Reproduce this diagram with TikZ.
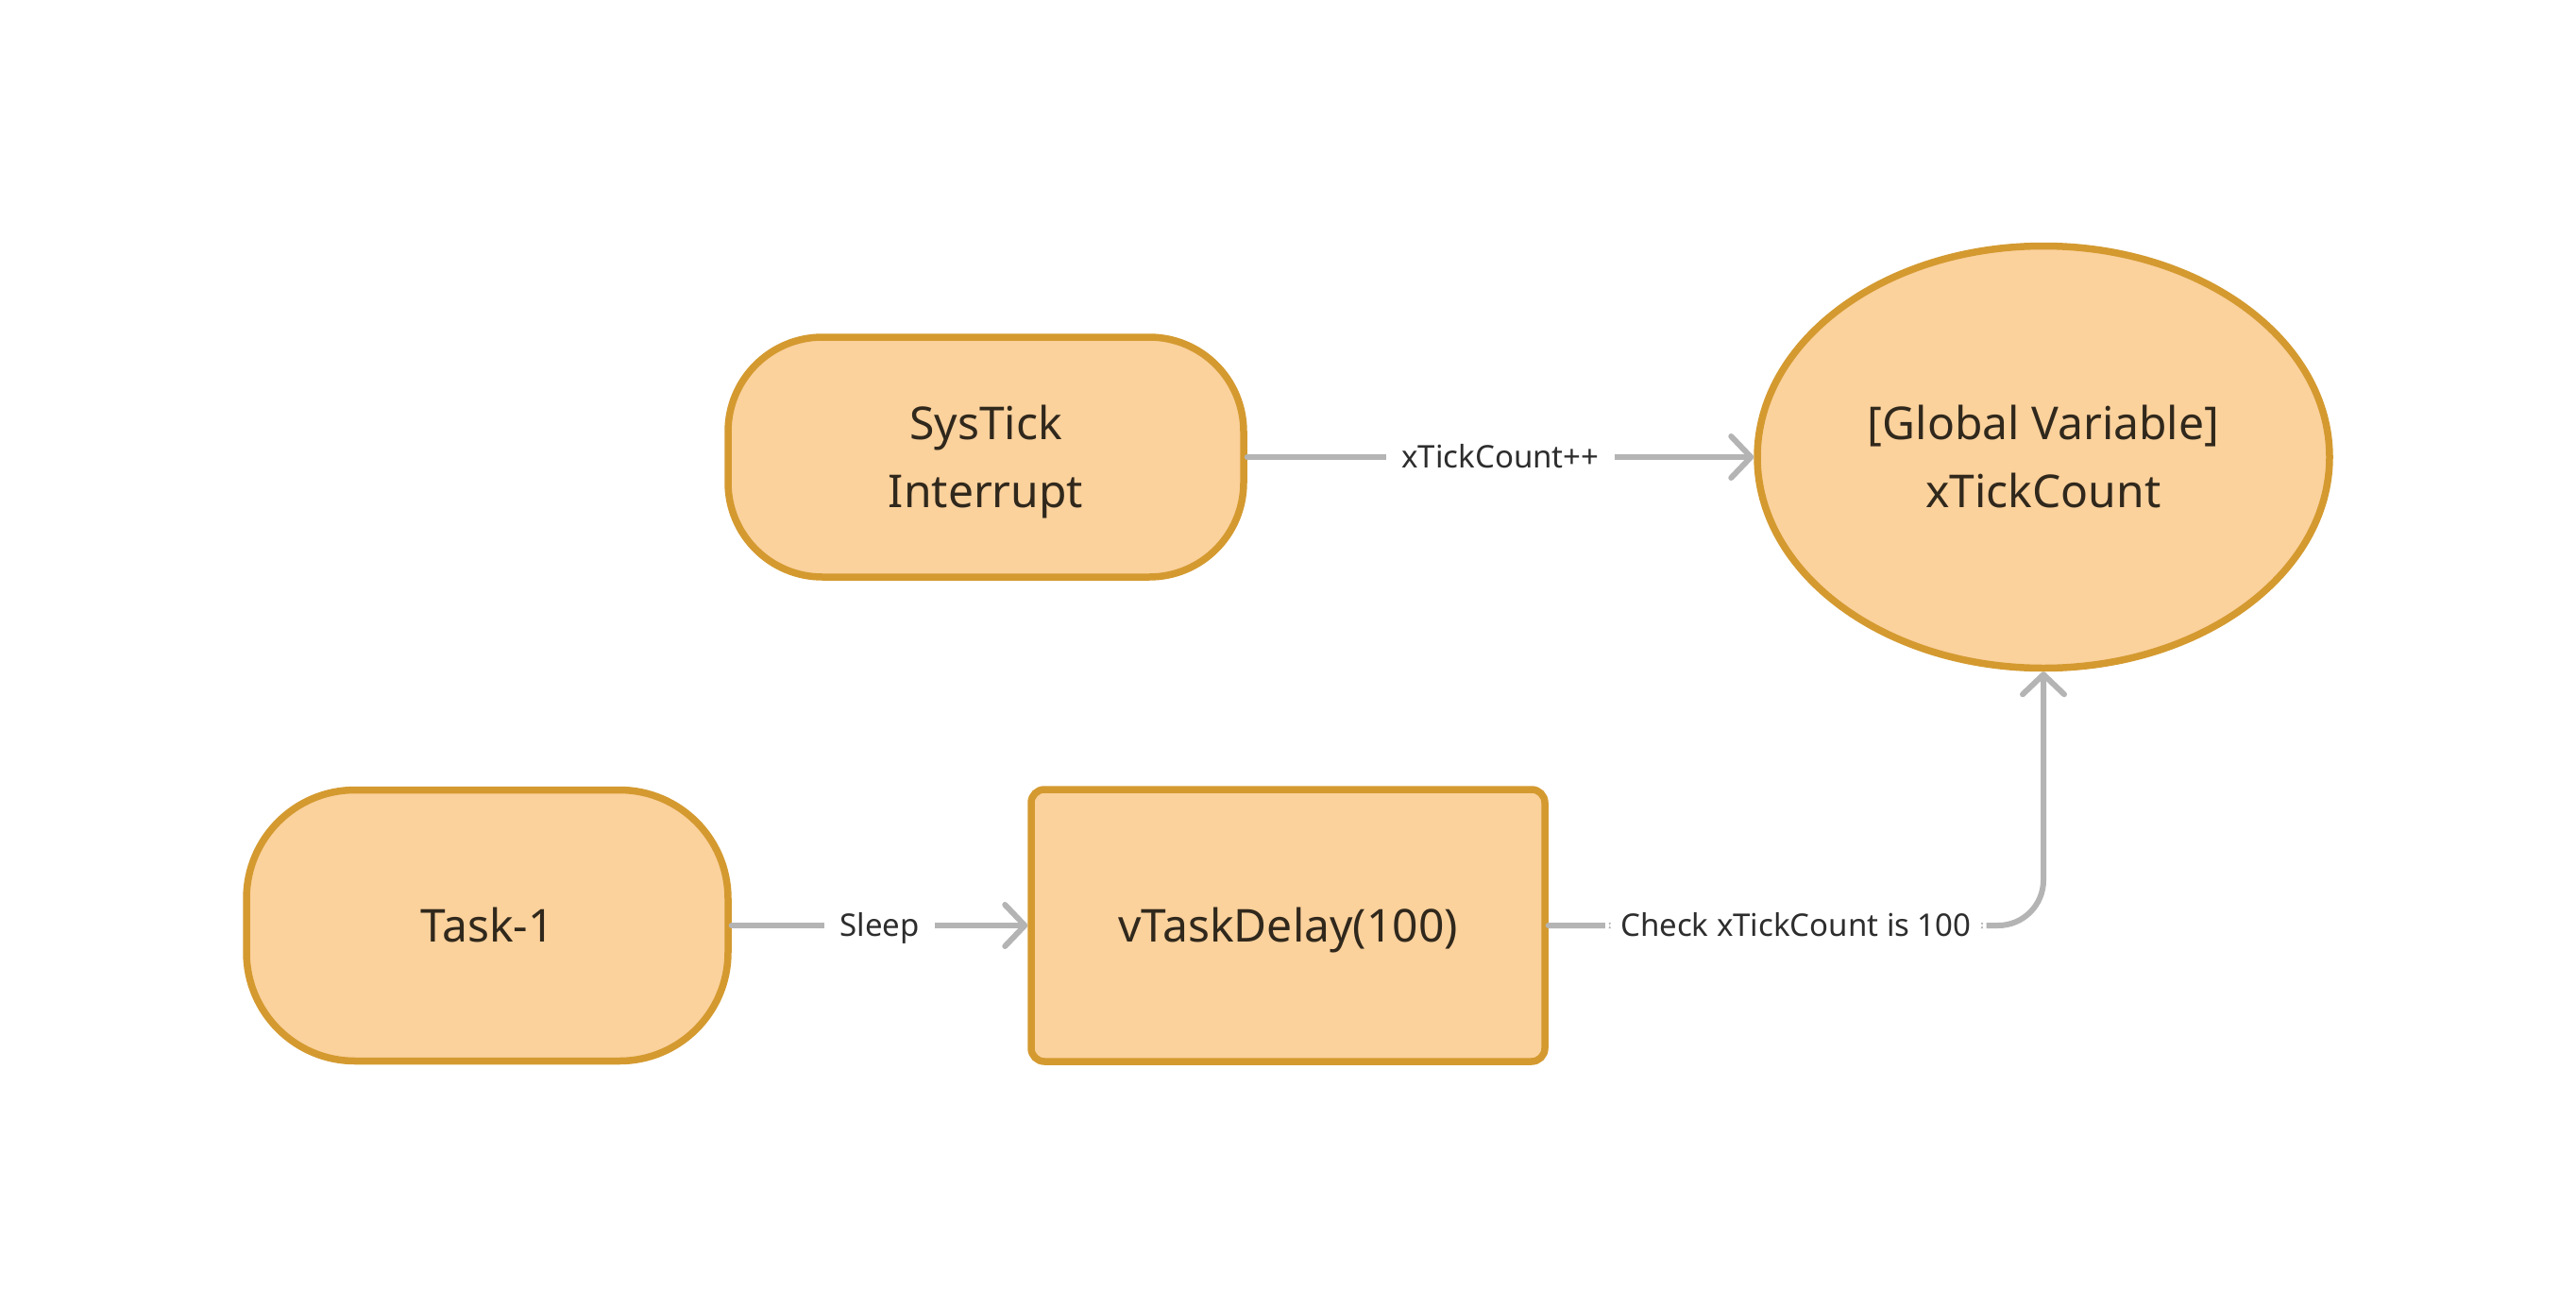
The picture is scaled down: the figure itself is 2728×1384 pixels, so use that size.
\documentclass[tikz,border=0pt]{standalone}
\usepackage{fontspec}
\setmainfont{Noto Sans}
\usetikzlibrary{arrows.meta,shapes.geometric}
\definecolor{nodefill}{RGB}{251,209,156}
\definecolor{nodedraw}{RGB}{212,154,48}
\definecolor{arrowgray}{RGB}{180,180,180}
\definecolor{textdark}{RGB}{48,40,28}
\definecolor{labeltext}{RGB}{45,45,45}
\newcommand\topst{\rule{0pt}{1.2em}}
\newcommand\botst{\rule[-0.486em]{0pt}{0pt}}
\begin{document}
\begin{tikzpicture}[x=1pt,y=-1pt,
  base/.style={draw=nodedraw, fill=nodefill, line width=7.5pt, inner sep=0pt, text=textdark, align=center, font=\fontsize{48}{72}\selectfont},
  pill/.style={base, rectangle, rounded corners=100pt},
  boxnode/.style={base, rectangle, rounded corners=14pt},
  ellnode/.style={base, ellipse},
  conn/.style={draw=arrowgray, line width=6pt, line cap=round, -{Straight Barb[length=21pt,width=44pt,round]}},
  lbl/.style={fill=white, text=labeltext, font=\fontsize{33}{38}\selectfont, inner xsep=16pt, inner ysep=0pt}
]
\useasboundingbox (0,0) rectangle (2728,1384);
\fill[white] (0,0) rectangle (2728,1384);
\node[pill, minimum width=546pt, minimum height=254pt] (sys) at (1044,484) {\topst SysTick\\Interrupt\botst};
\node[ellnode, minimum width=606pt, minimum height=447pt] (gv) at (2164,484) {\topst[Global Variable]\\xTickCount\botst};
\node[pill, rounded corners=115pt, minimum width=510pt, minimum height=287pt] (task) at (516,980) {\topst Task-1\botst};
\node[boxnode, minimum width=544pt, minimum height=288pt] (vt) at (1364,980) {\topst vTaskDelay(100)\botst};
\draw[conn] (sys.east) -- node[lbl]{\topst xTickCount++\botst} (gv.west);
\draw[conn] (task.east) -- node[lbl]{\topst Sleep\botst} (vt.west);
\draw[conn, rounded corners=48pt] (vt.east) -| node[lbl, pos=0.25]{\topst Check xTickCount is 100\botst} (gv.south);
\end{tikzpicture}
\end{document}
